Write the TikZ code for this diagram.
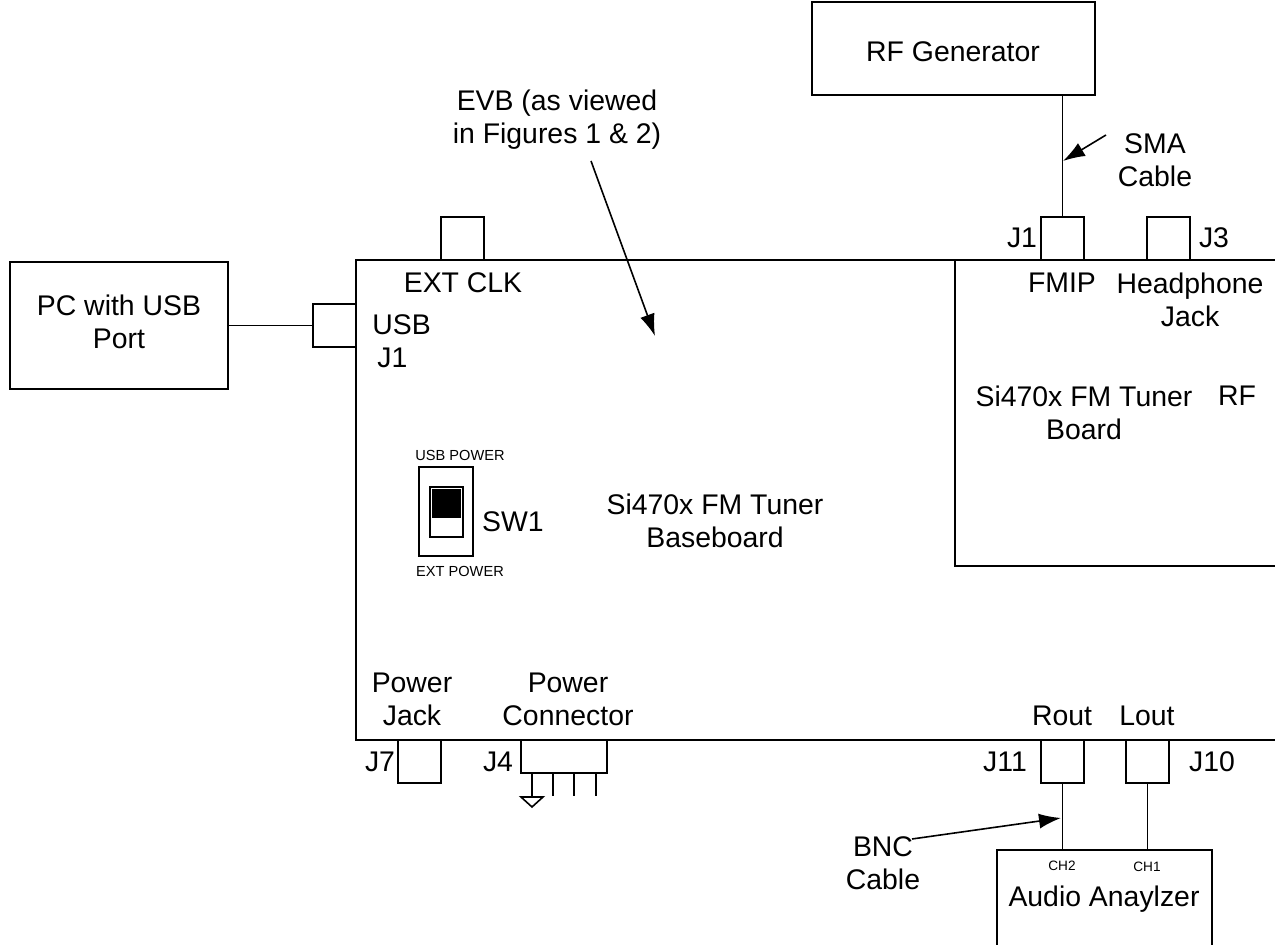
\documentclass[tikz,border=0pt]{standalone}
\usepackage{fontspec}
\setmainfont{Liberation Sans}
\usetikzlibrary{arrows.meta}
\begin{document}
\begin{tikzpicture}[x=0.5pt,y=-0.5pt,
  ln/.style={line width=0.8pt},
  box/.style={draw, line width=0.8pt, rectangle, inner sep=0pt},
  conn/.style={box, minimum width=21.5pt, minimum height=21.5pt},
  lbl/.style={font=\fontsize{14.2}{16.5}\selectfont, inner sep=0pt, align=center},
  small/.style={font=\fontsize{7.3}{9}\selectfont, inner sep=0pt},
  tiny/.style={font=\fontsize{6.8}{8}\selectfont, inner sep=0pt},
  arr/.style={line width=0.8pt, -{Latex[length=11pt,width=7.5pt]}}]
\clip (0,0) rectangle (1275,945);
% baseboard outline
\draw[ln] (1275,260) -- (356,260) -- (356,740) -- (1275,740);
% RF board
\draw[ln] (955,260) -- (955,566) -- (1275,566);
% PC
\node[box, minimum width=109pt, minimum height=63.5pt] (pc) at (119,325.5) {};
\node[lbl] (pctxt) at (119,322) {PC with USB\\Port};
\node[conn] (usb) at (334.5,325.5) {};
\draw[ln] (pc.east) -- (usb.west);
\node[lbl, anchor=west] (usbl) at (372,325) {USB};
\node[lbl, anchor=west] (j1l) at (377,358) {J1};
% EXT CLK
\node[conn] (extclk) at (462.5,238.5) {};
\node[lbl] (extclkl) at (463,283) {EXT CLK};
% EVB
\node[lbl] (evb) at (557,120) {EVB (as viewed\\in Figures 1 \& 2)};
\coordinate (evbs) at (591,161);
\coordinate (evbe) at (655,336);
\draw[arr] (evbs) -- (evbe);
% switch
\node[box, minimum width=27pt, minimum height=44.5pt] (sw) at (446,511.5) {};
\node[box, minimum width=16.5pt, minimum height=25pt] (swin) at (446.5,512) {};
\fill (432,489) rectangle (461,518);
\node[small] (usbp) at (460,455) {USB POWER};
\node[small] (extp) at (460,571) {EXT POWER};
\node[lbl] (sw1) at (513,522) {SW1};
\node[lbl] (base) at (715,521) {Si470x FM Tuner\\Baseboard};
% power jack
\node[lbl] (pj) at (412,699) {Power\\Jack};
\node[conn] (j7) at (419.5,761.5) {};
\node[lbl] (j7l) at (380,762) {J7};
% power connector
\node[lbl] (pcn) at (568,699) {Power\\Connector};
\node[box, minimum width=43pt, minimum height=16.5pt] (j4) at (564,756.5) {};
\node[lbl] (j4l) at (498,762) {J4};
\foreach \x in {532,553,574,596} \draw[ln] (\x,773) -- (\x,796);
\draw[ln] (521,797) -- (543,797) -- (532,807) -- cycle;
% Rout / Lout
\node[lbl] (rout) at (1062,716) {Rout};
\node[lbl] (lout) at (1147,716) {Lout};
\node[conn] (j11) at (1062.5,761.5) {};
\node[conn] (j10) at (1147.5,761.5) {};
\node[lbl] (j11l) at (1005,762) {J11};
\node[lbl] (j10l) at (1212,762) {J10};
% audio analyzer
\node[box, minimum width=107.5pt, minimum height=75pt] (aud) at (1104.5,925) {};
\draw[ln] (j11.south) -- (j11.south |- aud.north);
\draw[ln] (j10.south) -- (j10.south |- aud.north);
\node[tiny] (ch2) at (1062,866) {CH2};
\node[tiny] (ch1) at (1147,867) {CH1};
\node[lbl] (audl) at (1104,899) {Audio Anaylzer};
% BNC
\node[lbl] (bnc) at (883,863) {BNC\\Cable};
\coordinate (bncs) at (912,839);
\coordinate (bnce) at (1061,818);
\draw[arr] (bncs) -- (bnce);
% RF generator
\node[box, minimum width=141.5pt, minimum height=46.5pt] (rfg) at (953.5,48.5) {};
\node[lbl] (rfgl) at (953,52) {RF Generator};
\node[conn] (j1rf) at (1062.5,238.5) {};
\node[conn] (j3) at (1168.5,238.5) {};
\draw[ln] (j1rf.north) -- (j1rf.north |- rfg.south);
\node[lbl] (j1rfl) at (1022,238) {J1};
\node[lbl] (j3l) at (1214,238) {J3};
\node[lbl] (fmip) at (1062,283) {FMIP};
\node[lbl] (hp) at (1190,300) {Headphone\\Jack};
\coordinate (smas) at (1106,135);
\coordinate (smae) at (1063,161);
\draw[arr] (smas) -- (smae);
\node[lbl] (sma) at (1155,160) {SMA\\Cable};
\node[lbl] (rfb) at (1084,413) {Si470x FM Tuner\\Board};
\node[lbl] (rfl) at (1237,396) {RF};
\end{tikzpicture}
\end{document}
